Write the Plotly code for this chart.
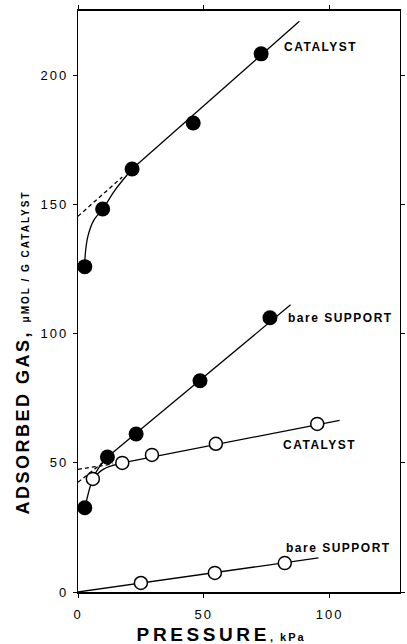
import plotly.graph_objects as go

# ---- data (pressure kPa, adsorbed gas umol/g) ----
cat_filled_p = [2.7, 9.8, 21.5, 45.8, 72.8]
cat_filled_v = [126, 148.3, 163.8, 181.6, 208.4]

sup_filled_p = [2.7, 11.7, 23.1, 48.5, 76.3]
sup_filled_v = [32.6, 52.3, 61.2, 81.8, 106.2]

cat_open_p = [5.9, 17.6, 29.4, 54.8, 95.1]
cat_open_v = [43.8, 50.0, 53.1, 57.4, 65.1]

sup_open_p = [25.0, 54.4, 82.2]
sup_open_v = [3.5, 7.4, 11.2]

# drawn curves / fitted lines
cat_curve_p = [2.7, 2.9, 4.0, 6.3, 9.8, 15.0, 21.5]
cat_curve_v = [126, 131, 138, 144, 148.3, 156, 163.8]
cat_line_p = [21.5, 88.0]
cat_line_v = [163.8, 221.0]
cat_dash_p = [0.0, 17.6]
cat_dash_v = [145.5, 160.7]

sup_curve_p = [2.7, 5.9, 8.5, 11.7]
sup_curve_v = [32.6, 44.0, 48.5, 52.3]
sup_line_p = [11.7, 84.5]
sup_line_v = [52.3, 111.2]
sup_dash_p = [0.0, 11.0]
sup_dash_v = [42.5, 51.0]

ocat_curve_p = [5.9, 10.0, 17.6]
ocat_curve_v = [43.8, 47.5, 50.0]
ocat_line_p = [17.6, 104.0]
ocat_line_v = [50.0, 66.5]
ocat_dash_p = [0.0, 14.0]
ocat_dash_v = [47.5, 49.6]

osup_line_p = [0.0, 95.6]
osup_line_v = [0.0, 13.2]

x_ticks = [0, 50, 100]
y_ticks = [0, 50, 100, 150, 200]

labels = ["CATALYST", "bare SUPPORT", "CATALYST", "bare SUPPORT"]
label_p = [96.5, 104.5, 96.1, 103.5]
label_v = [211.0, 106.1, 56.9, 17.0]

FONT = "Liberation Sans, Arial, Helvetica, sans-serif"
LW = 1.3

fig = go.Figure()

def line(px, vy, dash="solid", shape="linear"):
    fig.add_trace(go.Scatter(x=px, y=vy, mode="lines", line=dict(color="black", width=LW, dash=dash, shape=shape, smoothing=1.0), showlegend=False, hoverinfo="skip", cliponaxis=False))

line(cat_curve_p, cat_curve_v, shape="spline")
line(cat_line_p, cat_line_v)
line(cat_dash_p, cat_dash_v, dash="4px,3px")
line(sup_curve_p, sup_curve_v, shape="spline")
line(sup_line_p, sup_line_v)
line(sup_dash_p, sup_dash_v, dash="4px,3px")
line(ocat_curve_p, ocat_curve_v, shape="spline")
line(ocat_line_p, ocat_line_v)
line(ocat_dash_p, ocat_dash_v, dash="4px,3px")
line(osup_line_p, osup_line_v)

def pts(px, vy, filled):
    fig.add_trace(go.Scatter(
        x=px, y=vy, mode="markers", showlegend=False, cliponaxis=False,
        marker=dict(size=15 if filled else 13, color="black" if filled else "white",
                    line=dict(color="black", width=0 if filled else 1.5))))

pts(cat_filled_p, cat_filled_v, True)
pts(sup_filled_p, sup_filled_v, True)
pts(cat_open_p, cat_open_v, False)
pts(sup_open_p, sup_open_v, False)

for t, px, vy in zip(labels, label_p, label_v):
    fig.add_annotation(x=px, y=vy, text=t, showarrow=False, xanchor="center", yanchor="middle",
                       font=dict(family=FONT, size=12, color="black", weight="bold"))

fig.add_annotation(xref="paper", yref="paper", x=-0.171, y=0.413, textangle=-90,
                   text="ADSORBED GAS, <span style='font-size:10px'>μMOL / G CATALYST</span>",
                   showarrow=False, xanchor="center", yanchor="middle",
                   font=dict(family=FONT, size=18, color="black", weight="bold"))
fig.add_annotation(xref="paper", yref="paper", x=0.446, y=-0.073,
                   text="PRESSURE<span style='font-size:11px'>, kPa</span>",
                   showarrow=False, xanchor="center", yanchor="middle",
                   font=dict(family=FONT, size=19, color="black", weight="bold"))

axis_common = dict(showgrid=False, zeroline=False, showline=True, linecolor="black",
                   mirror="ticks", ticks="outside", ticklen=4, tickwidth=1.2, tickcolor="black",
                   tickfont=dict(family=FONT, size=13, color="black"))

fig.update_xaxes(range=[0, 128], tickvals=x_ticks, ticktext=[str(v) for v in x_ticks],
                 linewidth=1.8, ticklabelstandoff=5, **axis_common)
fig.update_yaxes(range=[0, 225], tickvals=y_ticks, ticktext=[str(v) for v in y_ticks],
                 linewidth=1.3, ticklabelstandoff=2, **axis_common)

fig.update_layout(width=407, height=644, margin=dict(l=78, r=2, t=11, b=52),
                  plot_bgcolor="white", paper_bgcolor="white",
                  font=dict(family=FONT, color="black"))

post = """
document.body.style.margin = '0';
document.body.style.padding = '0';
var gd = document.getElementById('{plot_id}');
function applySpacing(){
  var map = {20:3.4, 19:3.6, 18:2.5, 13:2, 12:1.5, 11:2, 10:2};
  gd.querySelectorAll('text, tspan').forEach(function(el){
    var fs = Math.round(parseFloat(window.getComputedStyle(el).fontSize));
    if (map[fs] !== undefined) { el.style.letterSpacing = map[fs] + 'px'; }
  });
}
applySpacing();
setTimeout(applySpacing, 50);
if (gd && gd.on) { gd.on('plotly_afterplot', applySpacing); }
"""
fig.write_html("out.html", post_script=post, config={"displayModeBar": False})
